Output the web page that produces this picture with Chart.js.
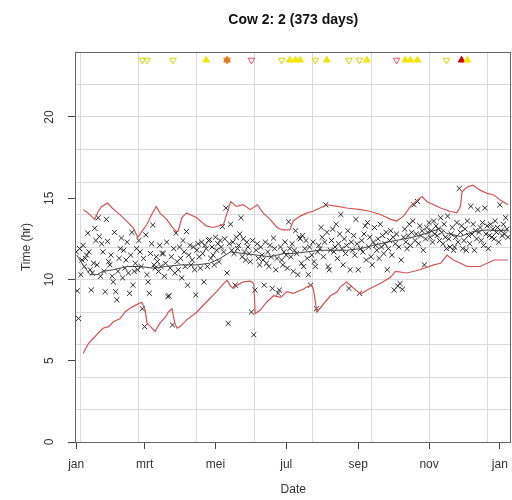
<!DOCTYPE html>
<html>
<head>
<meta charset="utf-8">
<script src="https://cdn.jsdelivr.net/npm/chart.js@4/dist/chart.umd.min.js"></script>
<style>
  html, body { margin: 0; padding: 0; background: #fff; overflow: hidden; width: 512px; height: 500px; }
  canvas { display: block; }
</style>
</head>
<body>
<canvas id="chart" width="516" height="500"></canvas>
<script>
// x = day since 1 jan
const monthDays = [0, 59, 120, 181, 243, 304, 365];
const monthLabels = ['jan', 'mrt', 'mei', 'jul', 'sep', 'nov', 'jan'];
const gridDays = [4, 54, 104, 154, 204, 254, 304, 354];
const yTicks = [0, 5, 10, 15, 20];
const yGrid = [0, 2, 4, 6, 8, 10, 12, 14, 16, 18, 20, 22, 24];

// daily time values (hr), day 0..372
const timeValues = [
  11.7, 9.3, 7.6, 11.9, 10.3, 11.2, 12.1, 10.8, 11.3, 11.5,
  12.85, 11.7, 10.6, 9.35, 10.4, 11.0, 13.15, 12.4, 10.9, 13.8,
  12.65, 10.2, 12.2, 11.7, 10.5, 9.25, 13.7, 12.35, 11.1, 10.9,
  11.5, 10.2, 9.85, 12.9, 9.25, 8.75, 10.5, 11.3, 11.9, 12.55,
  10.1, 11.8, 10.7, 11.2, 12.3, 10.4, 9.15, 11.5, 12.9, 9.65,
  10.5, 11.0, 11.9, 10.6, 12.4, 11.7, 10.8, 8.2, 11.3, 7.1,
  12.75, 10.3, 9.85, 9.15, 11.6, 12.2, 13.35, 10.9, 10.7, 11.4,
  11.1, 10.5, 12.1, 10.8, 11.6, 11.6, 10.2, 11.0, 12.3, 8.95,
  9.0, 10.7, 11.4, 7.2, 11.9, 10.4, 12.85, 11.1, 10.6, 12.0,
  11.3, 10.1, 12.4, 11.7, 10.8, 12.95, 9.65, 11.5, 12.1, 10.9,
  11.2, 12.0, 10.6, 9.05, 11.8, 12.2, 11.4, 10.7, 12.3, 11.6,
  9.85, 12.1, 11.9, 10.8, 12.4, 12.45, 11.3, 12.0, 11.5, 10.9,
  12.6, 11.8, 12.2, 11.1, 12.4, 12.0, 13.25, 11.7, 12.5, 14.4,
  10.4, 7.3, 12.2, 13.4, 11.8, 12.3, 11.6, 9.65, 12.6, 11.9,
  12.1, 12.8, 13.8, 11.4, 12.5, 11.7, 11.2, 12.3, 12.0, 11.6,
  11.1, 8.0, 12.4, 6.6, 9.35, 11.8, 12.2, 11.3, 10.9, 12.0,
  11.5, 11.2, 9.65, 12.3, 11.0, 11.7, 10.8, 12.1, 11.4, 9.45,
  12.55, 11.9, 10.6, 11.3, 9.15, 9.35, 12.0, 11.2, 10.9, 11.7,
  12.3, 11.5, 10.7, 13.55, 11.9, 11.4, 12.2, 10.5, 11.8, 13.0,
  11.6, 10.3, 12.6, 12.5, 11.0, 12.7, 10.8, 11.9, 12.4, 11.3,
  10.3, 12.0, 9.65, 11.5, 12.3, 11.1, 10.8, 8.2, 11.7, 12.1,
  11.9, 13.2, 12.6, 11.4, 12.3, 14.6, 12.9, 10.8, 10.6, 11.8,
  12.4, 13.1, 11.7, 12.0, 13.4, 11.3, 12.2, 12.8, 14.0, 11.9,
  10.9, 12.5, 11.6, 12.1, 13.0, 9.45, 10.6, 12.3, 11.8, 12.7,
  11.5, 13.7, 12.2, 10.6, 9.15, 11.9, 12.4, 11.7, 12.8, 13.3,
  11.2, 13.5, 12.0, 12.6, 11.4, 10.9, 12.3, 13.2, 12.1, 11.8,
  12.5, 11.3, 13.4, 12.0, 12.7, 11.6, 12.2, 12.9, 10.6, 11.9,
  12.4, 13.0, 11.5, 12.6, 9.35, 12.2, 12.8, 9.6, 12.0, 9.75,
  11.2, 9.4, 12.6, 13.1, 12.3, 11.9, 12.7, 13.4, 12.1, 12.9,
  13.6, 14.6, 12.4, 12.8, 14.8, 12.2, 13.3, 12.7, 13.0, 11.8,
  10.9, 12.5, 13.2, 12.9, 13.5, 12.6, 13.0, 12.3, 13.6, 12.8,
  13.3, 12.7, 13.1, 12.4, 13.8, 12.9, 12.2, 13.4, 12.6, 11.9,
  13.9, 12.5, 12.0, 12.8, 13.2, 11.8, 12.0, 12.6, 13.5, 12.3,
  15.6, 12.9, 13.3, 11.9, 12.4, 13.1, 11.8, 13.6, 12.7, 12.2,
  14.5, 12.8, 13.4, 11.8, 13.0, 12.5, 14.3, 12.9, 13.2, 12.4,
  13.5, 12.1, 14.4, 12.8, 13.3, 11.9, 12.7, 13.4, 12.6, 13.1,
  12.5, 13.6, 12.9, 13.2, 12.3, 14.6, 13.0, 12.7, 13.4, 12.8,
  13.8, 13.1, 12.6
];

// running mean
const meanDays = [0.5, 6, 12, 18, 23, 32, 44, 55, 66, 78, 90, 104, 115, 124, 133, 144, 156, 167, 179, 187, 199, 210, 221, 233, 245, 256, 268, 279, 290, 302, 314, 319, 331, 342, 354, 365, 372];
const meanVals = [11.5, 10.9, 10.3, 10.3, 10.5, 10.6, 10.8, 10.8, 10.7, 10.8, 10.9, 10.9, 11.0, 11.3, 11.7, 11.6, 11.5, 11.4, 11.6, 11.6, 11.7, 11.8, 11.8, 11.8, 11.9, 12.1, 12.3, 12.45, 12.6, 12.85, 13.15, 12.85, 12.65, 12.95, 13.05, 13.0, 13.05];

// upper limit
const upperDays = [6, 10, 16, 19, 22, 27, 31, 36, 42, 49, 53, 56.5, 61, 65, 69, 72, 78, 82, 86, 88, 91, 95, 104, 112, 118, 127, 130, 133, 138, 144, 150, 156, 161, 167, 173, 178, 184, 187, 193, 199, 204, 210, 216, 225, 233, 245, 253, 262, 271, 276, 282, 288, 294, 298, 302, 308, 314, 322, 328, 331, 332.5, 337, 342, 348, 354, 360, 365, 372];
const upperVals = [14.3, 14.1, 13.7, 14.2, 14.5, 14.7, 14.4, 14.1, 13.7, 13.2, 12.6, 12.95, 13.4, 14.0, 14.5, 14.1, 13.7, 13.3, 12.95, 13.0, 13.8, 14.1, 13.8, 13.3, 13.2, 13.4, 14.1, 14.8, 14.5, 14.6, 14.3, 14.6, 14.1, 13.7, 13.2, 13.05, 13.05, 13.6, 13.9, 14.1, 14.2, 14.4, 14.6, 14.5, 14.4, 14.3, 14.2, 14.0, 13.7, 13.6, 13.9, 14.5, 14.9, 15.1, 14.8, 14.6, 14.4, 14.2, 14.1, 14.5, 15.4, 15.7, 15.8, 15.5, 15.3, 15.2, 14.9, 14.6];

// lower limit
const lowerDays = [6, 10.5, 15, 19, 23, 28, 32, 38, 42, 48, 53.5, 56.5, 59.5, 61, 64, 68, 72, 77, 79.5, 82.5, 85, 87, 89.5, 95, 104, 112, 121, 127, 130, 133, 135.5, 138.5, 144, 150, 153, 154.2, 158.5, 164, 170, 176, 181.5, 187, 195.5, 199, 203, 204.5, 207.4, 212, 219, 225, 227.5, 233, 237.5, 245, 253, 262, 271, 275, 285, 296, 308, 314, 319.5, 325, 337, 348, 360, 372];
const lowerVals = [5.45, 6.05, 6.4, 6.7, 7.0, 7.1, 7.4, 7.6, 8.0, 8.3, 8.5, 8.6, 8.1, 7.3, 7.1, 6.8, 7.3, 7.7, 8.0, 8.2, 7.3, 7.0, 7.1, 7.5, 8.0, 8.6, 9.25, 9.75, 9.95, 9.6, 9.45, 9.65, 9.85, 9.9, 9.75, 7.9, 8.1, 8.6, 9.0, 8.9, 9.25, 9.15, 9.4, 9.55, 9.65, 9.35, 8.0, 8.4, 9.0, 9.25, 9.55, 9.85, 9.55, 9.1, 9.45, 9.75, 10.15, 10.5, 10.4, 10.6, 10.9, 11.0, 11.5, 11.2, 10.8, 10.8, 11.2, 11.2];

// event markers along the top
const markerLevel = 23.5;
const yellowDownDays = [57, 61, 83.5, 177, 206, 235, 244, 319];
const yellowUpDays = [112, 184, 189, 193, 216, 250.5, 283.5, 288, 294, 337];
const orangeDays = [130];
const redDownDays = [151, 276];
const darkRedUpDays = [332];

const FONT = "'Liberation Sans', Arial, sans-serif";

function pts(days, vals) {
    return days.map((d, i) => ({ x: d, y: vals[i] }));
}

function marks(days) {
    return days.map(d => ({ x: d, y: markerLevel }));
}

// R style box round the plot, plus rotated y tick labels
const boxPlugin = {
    id: 'box',
    afterDraw(chart) {
        const a = chart.chartArea;
        const ctx = chart.ctx;
        const ys = chart.scales.y;
        ctx.save();
        ctx.strokeStyle = '#666';
        ctx.lineWidth = 1;
        ctx.strokeRect(Math.round(a.left) + 0.5, Math.round(a.top) + 0.5, Math.round(a.right - a.left) - 1, Math.round(a.bottom - a.top));
        ctx.fillStyle = '#333';
        ctx.font = '12px ' + FONT;
        ctx.textAlign = 'center';
        ctx.textBaseline = 'middle';
        yTicks.forEach(v => {
            ctx.save();
            ctx.translate(50, ys.getPixelForValue(v));
            ctx.rotate(-Math.PI / 2);
            ctx.fillText(String(v), 0, 0);
            ctx.restore();
        });
        ctx.restore();
    }
};

const markerBase = { type: 'scatter', showLine: false, pointRadius: 3.8, pointBorderWidth: 1, order: 0 };

new Chart(document.getElementById('chart'), {
    type: 'scatter',
    data: {
        datasets: [
            Object.assign({}, markerBase, { data: marks(yellowDownDays), pointStyle: 'triangle', rotation: 180, borderColor: '#e2d000', backgroundColor: 'rgba(0,0,0,0)' }),
            Object.assign({}, markerBase, { data: marks(yellowUpDays), pointStyle: 'triangle', borderColor: '#f5e400', backgroundColor: '#f5e400' }),
            Object.assign({}, markerBase, { data: marks(orangeDays), pointStyle: 'triangle', borderColor: '#e8781c', backgroundColor: '#e8781c' }),
            Object.assign({}, markerBase, { data: marks(orangeDays), pointStyle: 'triangle', rotation: 180, borderColor: '#e8781c', backgroundColor: 'rgba(0,0,0,0)' }),
            Object.assign({}, markerBase, { data: marks(redDownDays), pointStyle: 'triangle', rotation: 180, borderColor: '#e0506a', backgroundColor: 'rgba(0,0,0,0)' }),
            Object.assign({}, markerBase, { data: marks(darkRedUpDays), pointStyle: 'triangle', borderColor: '#cc0000', backgroundColor: '#cc0000' }),
            {
                type: 'line', data: pts(upperDays, upperVals), borderColor: '#d45454', borderWidth: 1.2,
                pointRadius: 0, tension: 0, order: 1
            },
            {
                type: 'line', data: pts(lowerDays, lowerVals), borderColor: '#d45454', borderWidth: 1.2,
                pointRadius: 0, tension: 0, order: 1
            },
            {
                type: 'line', data: pts(meanDays, meanVals), borderColor: '#444', borderWidth: 1,
                pointRadius: 0, tension: 0, order: 2
            },
            {
                data: timeValues.map((v, i) => ({ x: i, y: v })),
                pointStyle: 'crossRot', pointRadius: 3.6, pointBorderWidth: 1,
                borderColor: 'rgba(20,20,20,0.9)', backgroundColor: 'rgba(0,0,0,0)', order: 3
            }
        ]
    },
    options: {
        responsive: false,
        animation: false,
        layout: { autoPadding: false, padding: { left: 0, right: 0, top: 0, bottom: 0 } },
        plugins: {
            legend: { display: false },
            tooltip: { enabled: false },
            title: {
                display: true,
                fullSize: false,
                text: 'Cow 2: 2 (373 days)',
                color: '#111',
                font: { family: FONT, size: 14, weight: 'bold' },
                padding: { top: 12, bottom: 23.2 }
            }
        },
        scales: {
            x: {
                type: 'linear', min: -1, max: 375,
                afterBuildTicks: s => {
                    const all = Array.from(new Set(monthDays.concat(gridDays))).sort((a, b) => a - b);
                    s.ticks = all.map(v => ({ value: v }));
                },
                afterFit: s => { s.height = 58; },
                border: { display: false },
                grid: {
                    color: c => (c.tick && gridDays.includes(c.tick.value)) ? '#dadada' : 'rgba(0,0,0,0)',
                    tickColor: c => (c.tick && monthDays.includes(c.tick.value)) ? '#444' : 'rgba(0,0,0,0)',
                    tickLength: 7
                },
                ticks: {
                    autoSkip: false, maxRotation: 0, padding: 8, color: '#333',
                    font: { family: FONT, size: 12 },
                    callback: v => { const i = monthDays.indexOf(v); return i >= 0 ? monthLabels[i] : ''; }
                },
                title: { display: true, text: 'Date', color: '#333', font: { family: FONT, size: 12 }, padding: { top: 0, bottom: 3 } }
            },
            y: {
                type: 'linear', min: 0, max: 24,
                afterBuildTicks: s => {
                    const all = Array.from(new Set(yTicks.concat(yGrid))).sort((a, b) => a - b);
                    s.ticks = all.map(v => ({ value: v }));
                },
                afterFit: s => { s.width = 75; },
                border: { display: false },
                grid: {
                    color: c => (c.tick && yGrid.includes(c.tick.value)) ? '#dadada' : 'rgba(0,0,0,0)',
                    tickColor: c => (c.tick && yTicks.includes(c.tick.value)) ? '#444' : 'rgba(0,0,0,0)',
                    tickLength: 7
                },
                ticks: { autoSkip: false, callback: () => '' },
                title: { display: true, text: 'Time (hr)', color: '#333', font: { family: FONT, size: 12 }, padding: { top: 19 } }
            }
        }
    },
    plugins: [boxPlugin]
});
</script>
</body>
</html>
